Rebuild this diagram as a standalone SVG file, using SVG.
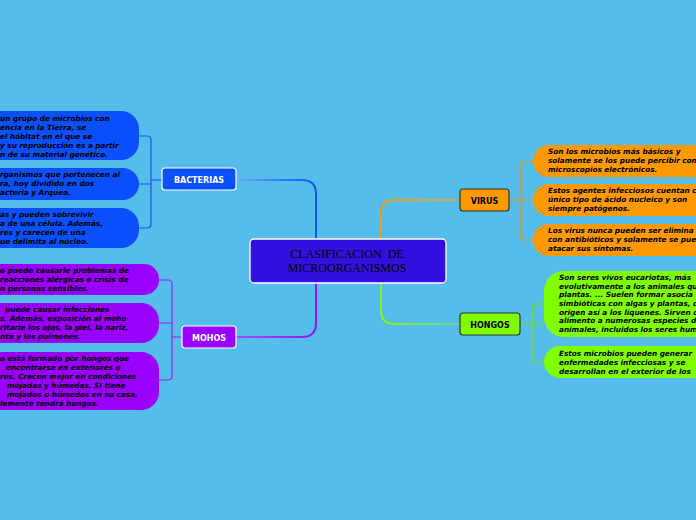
<svg xmlns="http://www.w3.org/2000/svg" width="696" height="520" viewBox="0 0 696 520">
<defs>
<style>
.bt{font-family:"DejaVu Sans",Verdana,sans-serif;font-weight:bold;font-style:italic;font-size:7.3px;fill:#000}
.nl{font-family:"DejaVu Sans",Verdana,sans-serif;font-weight:bold;font-size:8px;text-anchor:middle}
.ct{font-family:"Liberation Serif","Times New Roman",serif;font-size:12px;text-anchor:middle;fill:#000;white-space:pre}
.conn{fill:none;stroke-width:2;stroke-linecap:round}
.br{fill:none;stroke-width:1.2}
</style>
<linearGradient id="gB" gradientUnits="userSpaceOnUse" x1="236" y1="0" x2="316" y2="0"><stop offset="0" stop-color="#6aaaf5"/><stop offset="1" stop-color="#0a55ff"/></linearGradient>
<linearGradient id="gM" gradientUnits="userSpaceOnUse" x1="236" y1="0" x2="316" y2="0"><stop offset="0" stop-color="#9a55f0"/><stop offset="1" stop-color="#9a10ff"/></linearGradient>
<linearGradient id="gV" gradientUnits="userSpaceOnUse" x1="381" y1="0" x2="460" y2="0"><stop offset="0" stop-color="#ff9a00"/><stop offset="1" stop-color="#c8a870"/></linearGradient>
<linearGradient id="gH" gradientUnits="userSpaceOnUse" x1="381" y1="0" x2="460" y2="0"><stop offset="0" stop-color="#80ff00"/><stop offset="1" stop-color="#70d0a0"/></linearGradient>
</defs>
<rect width="696" height="520" fill="#55bdea"/>

<g id="connectors">
<path class="conn" stroke="url(#gB)" d="M236,180 H302 Q316,180 316,194 V239"/>
<path class="conn" stroke="url(#gM)" d="M316,282 V323 Q316,337 302,337 H236"/>
<path class="conn" stroke="url(#gV)" d="M381,239 V214 Q381,200 395,200 H460"/>
<path class="conn" stroke="url(#gH)" d="M381,282 V310 Q381,324 395,324 H460"/>
<path class="br" stroke="#1a55ff" d="M139,136 H147 Q151,136 151,140 V224 Q151,228 147,228 H139 M139,184 H151 M151,180 H162"/>
<path class="br" stroke="#9a20ff" d="M159,280 H168 Q172,280 172,284 V376 Q172,380 168,380 H159 M159,323 H172 M172,337 H182"/>
<path class="br" stroke="#d89a20" d="M533,161 H525 Q521,161 521,165 V236 Q521,240 525,240 H533 M509,200 H533"/>
<path class="br" stroke="#78e000" d="M544,304 H536 Q532,304 532,308 V358 Q532,362 536,362 H544 M520,324 H544"/>
</g>

<g id="center">
<rect x="250" y="239" width="196" height="44" rx="4" fill="#3410e0" stroke="#ffffff" stroke-width="1.3"/>
<text class="ct" x="347" y="258">CLASIFICACION  DE</text>
<text class="ct" x="347" y="272">MICROORGANISMOS</text>
</g>

<g id="bacterias">
<rect x="162" y="168" width="74" height="22" rx="3" fill="#0a50ff" stroke="#ffffff" stroke-width="1.2"/>
<text class="nl" x="199" y="183" fill="#ffffff">BACTERIAS</text>
</g>
<g id="mohos">
<rect x="182" y="326" width="54" height="22" rx="3" fill="#9900ff" stroke="#ffffff" stroke-width="1.2"/>
<text class="nl" x="209" y="341" fill="#ffffff">MOHOS</text>
</g>
<g id="virus">
<rect x="460" y="189" width="49" height="22" rx="3" fill="#ff9900" stroke="#333333" stroke-width="1.2"/>
<text class="nl" x="484.5" y="204" fill="#000000">VIRUS</text>
</g>
<g id="hongos">
<rect x="460" y="313" width="60" height="22" rx="3" fill="#80ff00" stroke="#333333" stroke-width="1.2"/>
<text class="nl" x="490" y="328" fill="#000000">HONGOS</text>
</g>

<g id="bact1">
<rect x="-60" y="111" width="199" height="49" rx="18" fill="#0a50ff"/>
<text class="bt"><tspan x="0" y="121">un grupo de microbios con</tspan><tspan x="0" y="130">encia en la Tierra, se</tspan><tspan x="0" y="139">el hábitat en el que se</tspan><tspan x="0" y="148">y su reproducción es a partir</tspan><tspan x="0" y="157">n de su material genético.</tspan></text>
</g>
<g id="bact2">
<rect x="-60" y="168" width="199" height="32" rx="16" fill="#0a50ff"/>
<text class="bt"><tspan x="0" y="177">rganismos que pertenecen al</tspan><tspan x="0" y="186">ra, hoy dividido en dos</tspan><tspan x="0" y="195">acteria y Arquea.</tspan></text>
</g>
<g id="bact3">
<rect x="-60" y="208" width="199" height="40" rx="18" fill="#0a50ff"/>
<text class="bt"><tspan x="0" y="217">as y pueden sobrevivir</tspan><tspan x="0" y="226">a de una célula. Además,</tspan><tspan x="0" y="235">res y carecen de una</tspan><tspan x="0" y="244">ue delimita al núcleo.</tspan></text>
</g>

<g id="moho1">
<rect x="-60" y="264" width="219" height="31" rx="15" fill="#9900ff"/>
<text class="bt"><tspan x="0" y="273">o puede causarle problemas de</tspan><tspan x="0" y="282">reacciones alérgicas o crisis de</tspan><tspan x="0" y="291">n personas sensibles.</tspan></text>
</g>
<g id="moho2">
<rect x="-60" y="303" width="219" height="40" rx="18" fill="#9900ff"/>
<text class="bt"><tspan x="5" y="312">puede causar infecciones</tspan><tspan x="0" y="321">s. Además, exposición al moho</tspan><tspan x="0" y="330">ritarle los ojos, la piel, la nariz,</tspan><tspan x="0" y="339">nta y los pulmones.</tspan></text>
</g>
<g id="moho3">
<rect x="-60" y="352" width="219" height="58" rx="18" fill="#9900ff"/>
<text class="bt"><tspan x="0" y="361">o está formado por hongos que</tspan><tspan x="6" y="370">encontrarse en exteriores o</tspan><tspan x="0" y="379">res. Crecen mejor en condiciones</tspan><tspan x="7" y="388">mojadas y húmedas. Si tiene</tspan><tspan x="7" y="397">mojados o húmedos en su casa,</tspan><tspan x="0" y="406">lemente tendrá hongos.</tspan></text>
</g>

<g id="virus1">
<rect x="533" y="145" width="220" height="32" rx="16" fill="#ff9900"/>
<text class="bt"><tspan x="548" y="154">Son los microbios más básicos y</tspan><tspan x="548" y="163">solamente se los puede percibir con</tspan><tspan x="548" y="172">microscopios electrónicos.</tspan></text>
</g>
<g id="virus2">
<rect x="533" y="184" width="220" height="32" rx="16" fill="#ff9900"/>
<text class="bt"><tspan x="548" y="193">Estos agentes infecciosos cuentan c</tspan><tspan x="548" y="202">único tipo de ácido nucleico y son</tspan><tspan x="548" y="211">siempre patógenos.</tspan></text>
</g>
<g id="virus3">
<rect x="533" y="224" width="220" height="32" rx="16" fill="#ff9900"/>
<text class="bt"><tspan x="548" y="233">Los virus nunca pueden ser elimina</tspan><tspan x="548" y="242">con antibióticos y solamente se pue</tspan><tspan x="548" y="251">atacar sus síntomas.</tspan></text>
</g>

<g id="hongo1">
<rect x="544" y="271" width="220" height="66" rx="20" fill="#80ff00"/>
<text class="bt"><tspan x="559" y="280">Son seres vivos eucariotas, más</tspan><tspan x="559" y="289">evolutivamente a los animales qu</tspan><tspan x="559" y="297">plantas. ... Suelen formar asocia</tspan><tspan x="559" y="306">simbióticas con algas y plantas, d</tspan><tspan x="559" y="315">origen así a los líquenes. Sirven d</tspan><tspan x="559" y="323">alimento a numerosas especies d</tspan><tspan x="559" y="332">animales, incluidos los seres hum</tspan></text>
</g>
<g id="hongo2">
<rect x="544" y="346" width="220" height="32" rx="16" fill="#80ff00"/>
<text class="bt"><tspan x="559" y="356">Estos microbios pueden generar</tspan><tspan x="559" y="365">enfermedades infecciosas y se</tspan><tspan x="559" y="374">desarrollan en el exterior de los</tspan></text>
</g>
</svg>
